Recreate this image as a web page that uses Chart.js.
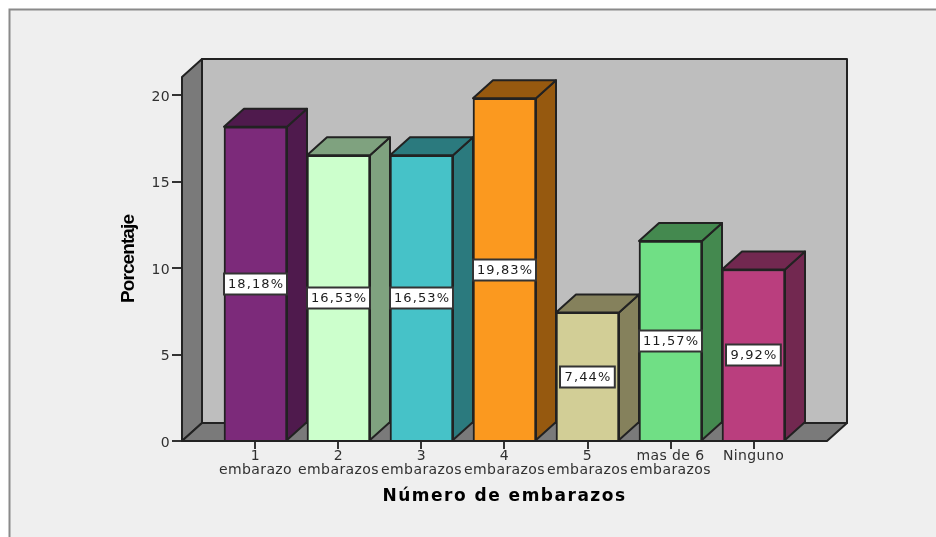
<!DOCTYPE html>
<html lang="es">
<head>
<meta charset="utf-8">
<title>Número de embarazos</title>
<script src="https://cdn.jsdelivr.net/npm/chart.js@4"></script>
<style>
  html, body { margin: 0; padding: 0; background: #fff; }
  canvas { display: block; }
</style>
</head>
<body>
<canvas id="c" width="936" height="537"></canvas>
<script>
// Frequency of pregnancies, percent of respondents
const categories = [['1','embarazo'],['2','embarazos'],['3','embarazos'],['4','embarazos'],['5','embarazos'],['mas de 6','embarazos'],['Ninguno']];
const percentages = [18.18, 16.53, 16.53, 19.83, 7.44, 11.57, 9.92];
const yTickValues = [0, 5, 10, 15, 20];
const frontColors = ['#7C2A7A','#CCFFCC','#46C2C8','#FB991F','#D2CE96','#70DF85','#BA3E7E'];
const shadeColors = ['#4F1A4D','#7FA27F','#2B7A7E','#96590F','#85815C','#44894F','#722850'];

const axisFont = 'DejaVu Sans';
const ink = '#1c1c1c';
const depthX = 20, depthY = 18;   // oblique projection of the 3D box

function poly(ctx, pts, fill) {
  ctx.beginPath();
  pts.forEach((p, i) => i ? ctx.lineTo(p[0], p[1]) : ctx.moveTo(p[0], p[1]));
  ctx.closePath();
  ctx.fillStyle = fill;
  ctx.fill();
  ctx.stroke();
}

// Letter spacing for an axis title, applied only while that title draws
function spaceTitle(scale, spacing) {
  if (scale.$spaced) return;
  scale.$spaced = true;
  const draw = scale.drawTitle;
  scale.drawTitle = function () {
    const ctx = this.ctx, old = ctx.letterSpacing;
    ctx.letterSpacing = spacing;
    draw.call(this);
    ctx.letterSpacing = old;
  };
}

// The value axis numerals sit slightly below their tick marks
function nudgeLabels(scale, dy) {
  if (scale.$nudged) return;
  scale.$nudged = true;
  const draw = scale.drawLabels;
  scale.drawLabels = function (area) {
    this.ctx.save();
    this.ctx.translate(0, dy);
    draw.call(this, area);
    this.ctx.restore();
  };
}

const boxPlugin = {
  id: 'box3d',
  afterLayout(chart) {
    spaceTitle(chart.scales.x, '1.5px');
    spaceTitle(chart.scales.y, '-0.9px');
    nudgeLabels(chart.scales.y, 2);
  },
  beforeDraw(chart) {
    const { ctx, width, height } = chart;
    ctx.save();
    ctx.fillStyle = '#fff';
    ctx.fillRect(0, 0, width, height);
    ctx.fillStyle = '#efefef';
    ctx.fillRect(9, 9, width, height);
    ctx.strokeStyle = '#8a8a8a';
    ctx.lineWidth = 2;
    ctx.beginPath();
    ctx.moveTo(9.5, height);
    ctx.lineTo(9.5, 9.5);
    ctx.lineTo(width, 9.5);
    ctx.stroke();
    ctx.restore();
    ctx.letterSpacing = '0.4px';   // wide-set tick lettering
  },
  beforeDatasetsDraw(chart) {
    const { ctx, chartArea: a } = chart;
    const dx = depthX, dy = depthY;
    ctx.save();
    ctx.strokeStyle = '#222';
    ctx.lineWidth = 2;
    ctx.lineJoin = 'round';
    // back wall, left wall, floor
    poly(ctx, [[a.left + dx, a.top - dy], [a.right + dx, a.top - dy], [a.right + dx, a.bottom - dy], [a.left + dx, a.bottom - dy]], '#bebebe');
    poly(ctx, [[a.left, a.top], [a.left + dx, a.top - dy], [a.left + dx, a.bottom - dy], [a.left, a.bottom]], '#7a7a7a');
    poly(ctx, [[a.left, a.bottom], [a.left + dx, a.bottom - dy], [a.right + dx, a.bottom - dy], [a.right, a.bottom]], '#7a7a7a');
    // side and top faces of each bar
    chart.getDatasetMeta(0).data.forEach((bar, i) => {
      const l = bar.x - bar.width / 2, r = bar.x + bar.width / 2;
      const t = bar.y, b = bar.base;
      poly(ctx, [[r, t], [r + dx, t - dy], [r + dx, b - dy], [r, b]], shadeColors[i]);
      poly(ctx, [[l, t], [l + dx, t - dy], [r + dx, t - dy], [r, t]], shadeColors[i]);
    });
    ctx.restore();
  },
  afterDatasetsDraw(chart) {
    const { ctx } = chart;
    ctx.save();
    ctx.letterSpacing = '1.1px';
    ctx.font = '13px "' + axisFont + '"';
    ctx.textAlign = 'center';
    ctx.textBaseline = 'middle';
    chart.getDatasetMeta(0).data.forEach((bar, i) => {
      const text = percentages[i].toFixed(2).replace('.', ',') + '%';
      const w = Math.min(bar.width, ctx.measureText(text).width + 8);
      const cy = (bar.y + bar.base) / 2, h = 21;
      const x = Math.round(bar.x - w / 2), y = Math.round(cy - h / 2) + 0.5;
      ctx.fillStyle = '#fff';
      ctx.strokeStyle = '#333';
      ctx.lineWidth = 2;
      ctx.fillRect(x, y, w, h);
      ctx.strokeRect(x, y, w, h);
      ctx.fillStyle = ink;
      ctx.fillText(text, bar.x + 0.5, cy + 1);
    });
    ctx.restore();
  }
};

new Chart(document.getElementById('c'), {
  type: 'bar',
  plugins: [boxPlugin],
  data: {
    datasets: [{
      data: percentages.map((v, i) => ({ x: i, y: v })),
      backgroundColor: frontColors,
      borderColor: '#222',
      borderWidth: 2,
      barThickness: 63
    }]
  },
  options: {
    responsive: false,
    animation: false,
    events: [],
    layout: { padding: { left: 117, right: 109, top: 77, bottom: 30 } },
    plugins: { legend: { display: false }, tooltip: { enabled: false }, title: { display: false } },
    scales: {
      x: {
        type: 'linear',
        offset: false,
        min: -0.8855,
        max: 6.8855,
        grid: { offset: false, drawOnChartArea: false, drawTicks: true, tickLength: 8, color: '#333', lineWidth: 2 },
        border: { display: false },
        afterBuildTicks: s => { s.ticks = categories.map((c, i) => ({ value: i })); },
        afterFit: s => { s.height = 66; s.paddingLeft = 0; s.paddingRight = 0; },
        ticks: {
          autoSkip: false, maxRotation: 0, minRotation: 0, padding: 1,
          color: '#303030',
          font: { family: axisFont, size: 14, lineHeight: 0.95 },
          callback: v => categories[v]
        },
        title: {
          display: true,
          text: 'Número de embarazos',
          color: '#000',
          padding: 0,
          font: { family: axisFont, size: 17, weight: 'bold', lineHeight: 1.2 }
        }
      },
      y: {
        min: 0,
        max: 21.06,
        grid: { drawOnChartArea: false, drawTicks: true, tickLength: 10, color: '#333', lineWidth: 2 },
        border: { display: false },
        afterBuildTicks: s => { s.ticks = yTickValues.map(v => ({ value: v })); },
        afterFit: s => { s.width = 65; s.paddingTop = 0; s.paddingBottom = 0; },
        ticks: {
          padding: 2,
          color: '#303030',
          font: { family: axisFont, size: 14 }
        },
        title: {
          display: true,
          text: 'Porcentaje',
          color: '#000',
          padding: 0,
          font: { family: 'Liberation Sans', size: 19, weight: 'bold', lineHeight: 1.2 }
        }
      }
    }
  }
});
</script>
</body>
</html>
